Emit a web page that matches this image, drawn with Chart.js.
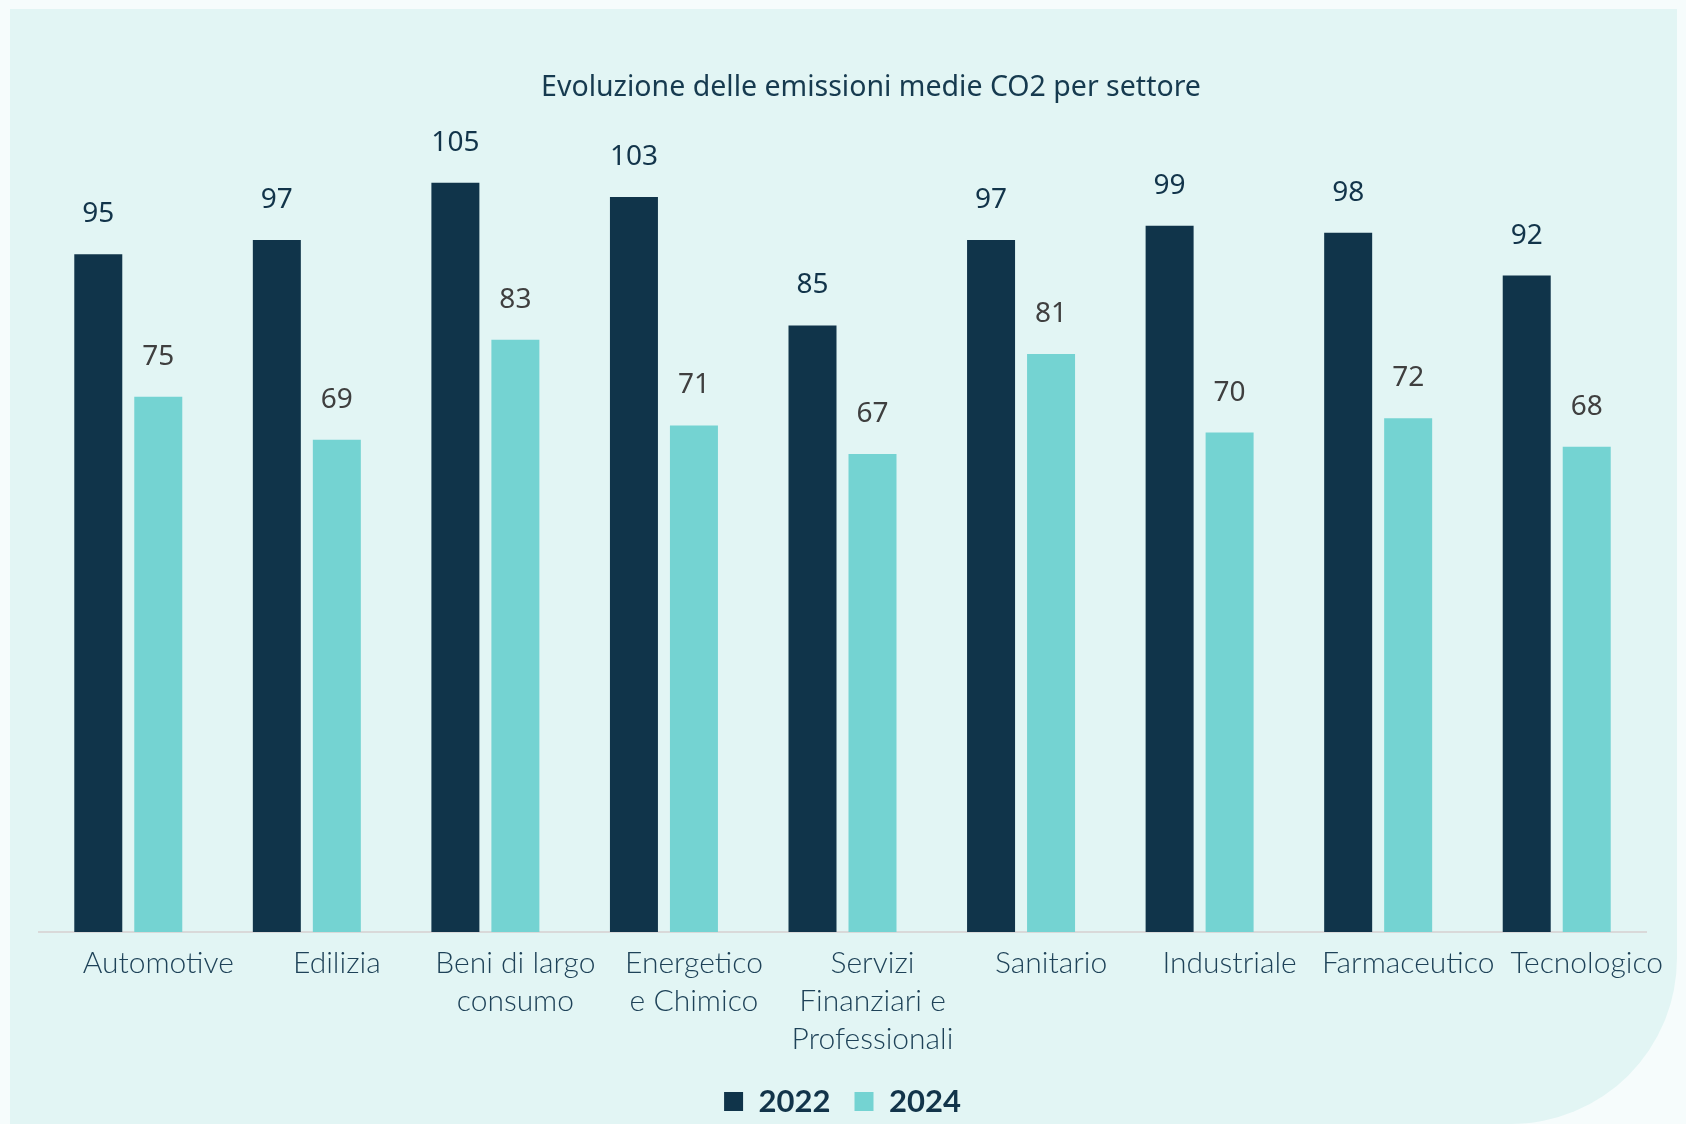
<!DOCTYPE html>
<html>
<head>
<meta charset="utf-8">
<script src="https://cdn.jsdelivr.net/npm/chart.js@4.4.1/dist/chart.umd.min.js"></script>
<style>
    html, body { margin: 0; padding: 0; background: #f6fcfc; }
    #wrap { position: relative; width: 1686px; height: 1124px; overflow: hidden; }
    #panel {
        position: absolute; left: 10px; top: 9px; width: 1667px; height: 1115px;
        background: #e2f5f4; border-bottom-right-radius: 166px;
    }
    #co2Chart { position: absolute; left: 0; top: 0; }
</style>
</head>
<body>
<div id="wrap">
    <div id="panel"></div>
    <canvas id="co2Chart" width="1686" height="1124"></canvas>
</div>
<script>
// Data
const sectors = [
    'Automotive',
    'Edilizia',
    ['Beni di largo', 'consumo'],
    ['Energetico', 'e Chimico'],
    ['Servizi', 'Finanziari e', 'Professionali'],
    'Sanitario',
    'Industriale',
    'Farmaceutico',
    'Tecnologico'
];
const years = ['2022', '2024'];
const values2022 = [95, 97, 105, 103, 85, 97, 99, 98, 92];
const values2024 = [75, 69, 83, 71, 67, 81, 70, 72, 68];
const chartTitle = 'Evoluzione delle emissioni medie CO2 per settore';

const darkBlue = '#10344a';
const teal = '#74d3d2';

// value labels above each bar
const barValues = {
    id: 'barValues',
    afterDatasetsDraw(chart) {
        const ctx = chart.ctx;
        ctx.save();
        ctx.font = '28px "Noto Sans"';
        ctx.textAlign = 'center';
        ctx.textBaseline = 'middle';
        chart.data.datasets.forEach(function(ds, i) {
            ctx.fillStyle = i === 0 ? '#12344a' : '#3f3f3f';
            chart.getDatasetMeta(i).data.forEach(function(bar, j) {
                ctx.fillText(String(ds.data[j]), bar.x, bar.y - 40);
            });
        });
        ctx.restore();
    }
};

// title sits a bit right of centre, like the original
const titleText = {
    id: 'titleText',
    afterDraw(chart) {
        const ctx = chart.ctx;
        ctx.save();
        ctx.font = '28.5px "Noto Sans"';
        ctx.fillStyle = '#163a4f';
        ctx.textAlign = 'center';
        ctx.textBaseline = 'alphabetic';
        ctx.fillText(chartTitle, 871, 96);
        ctx.restore();
    }
};

new Chart(document.getElementById('co2Chart').getContext('2d'), {
    type: 'bar',
    data: {
        labels: sectors,
        datasets: [{
            label: years[0],
            data: values2022,
            backgroundColor: darkBlue,
            categoryPercentage: 0.672,
            barPercentage: 0.8
        }, {
            label: years[1],
            data: values2024,
            backgroundColor: teal,
            categoryPercentage: 0.672,
            barPercentage: 0.8
        }]
    },
    options: {
        responsive: false,
        animation: false,
        devicePixelRatio: 1,
        layout: {
            padding: { top: 150, left: 39, right: 40, bottom: -3 }
        },
        scales: {
            x: {
                grid: { display: false, drawTicks: false },
                border: { display: true, color: '#d9d9d9', width: 2 },
                ticks: {
                    autoSkip: false,
                    maxRotation: 0,
                    labelOffset: 30,
                    padding: 12,
                    color: '#1e4258',
                    font: { family: 'Lato', weight: 300, size: 30, lineHeight: 1.27 }
                },
                afterFit: function(scale) {
                    scale.height = 130;
                }
            },
            y: {
                display: false,
                min: 0,
                max: 109.6
            }
        },
        plugins: {
            title: { display: false },
            tooltip: { enabled: false },
            legend: {
                position: 'bottom',
                labels: {
                    boxWidth: 19,
                    boxHeight: 19,
                    padding: 24,
                    color: '#12344a',
                    font: { family: 'Lato', weight: 'bold', size: 31 }
                }
            }
        }
    },
    plugins: [barValues, titleText]
});
</script>
</body>
</html>
